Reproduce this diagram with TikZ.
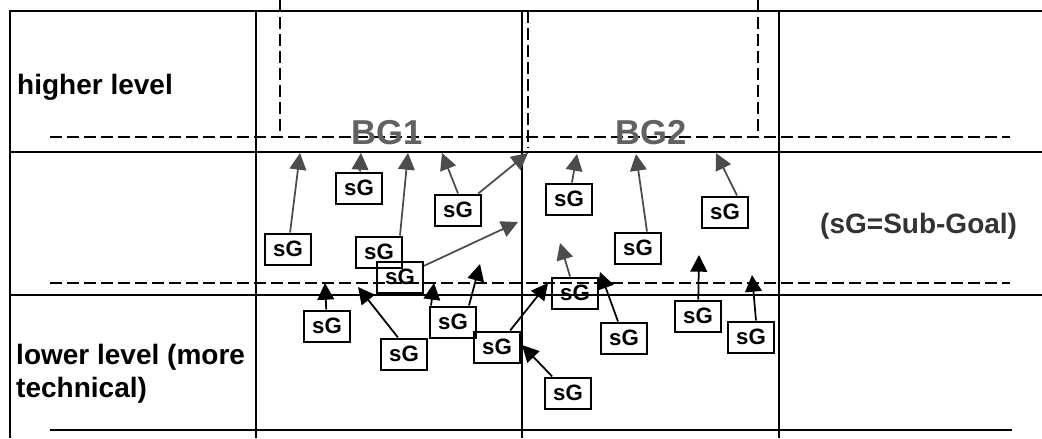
\documentclass[tikz,border=0pt]{standalone}
\usepackage{fontspec}
\setmainfont{Liberation Sans}
\usepackage{xcolor}
\usepackage{tikz}
\usetikzlibrary{positioning, arrows.meta}

\begin{document}
\begin{tikzpicture}[
  x=0.03cm, y=-0.03cm,
  grid/.style={line width=1.6pt, color=black},
  dashline/.style={line width=1.5pt, dash pattern=on 0.36cm off 0.15cm},
  lbl/.style={font=\fontsize{23.9}{28}\selectfont\bfseries, inner sep=0pt},
  goal/.style={font=\fontsize{29.5}{34}\selectfont\bfseries, text=black!62, inner sep=0pt},
  sgbox/.style={draw, line width=1.7pt, minimum width=1.38cm, minimum height=0.93cm, inner sep=0pt, font=\fontsize{19}{22}\selectfont\bfseries},
  arr/.style={-{Triangle[length=0.5cm, width=0.5cm]}, line width=1.5pt},
  garr/.style={arr, color=black!70},
]
  \useasboundingbox (0,0) rectangle (1042,438);

  % Grid
  \draw[grid] (10,438) -- (10,11) -- (1042,11);
  \draw[grid] (10,152) -- (1042,152);
  \draw[grid, line width=2.2pt] (10,295) -- (1042,295);
  \draw[grid] (50,430) -- (1012,430);
  \draw[grid] (256,11) -- (256,438);
  \draw[grid] (522,11) -- (522,438);
  \draw[grid] (779,11) -- (779,438);

  % Level borders and goal frames
  \draw[dashline] (50,137) -- (1010,137);
  \draw[dashline] (50,283) -- (1010,283);
  \draw[dashline, line width=1pt] (280,0) -- (280,137);
  \draw[dashline, line width=1pt] (528,11) -- (528,148);
  \draw[dashline, line width=1pt] (758,0) -- (758,137);

  % Row labels
  \node[lbl, anchor=base west] (high) at (17,94) {higher level};
  \node[lbl, anchor=base west] (low1) at (16,364) {lower level (more};
  \node[lbl, below=0.99cm of low1.base west, anchor=base west] (low2) {technical)};
  \node[lbl, anchor=base west, text=black!80] (legend) at (820,233) {(sG=Sub-Goal)};

  % Business goals
  \node[goal, anchor=base] (bg1) at (387,144) {BG1};
  \node[goal, anchor=base] (bg2) at (651,144) {BG2};

  % Sub-goals
  \node[sgbox] (sg1) at (288,249) {sG};
  \node[sgbox] (sg2) at (359,188) {sG};
  \node[sgbox] (sg3) at (458,210) {sG};
  \node[sgbox] (sg4) at (379,252) {sG};
  \node[sgbox] (sg5) at (400,277) {sG};
  \node[sgbox] (sg6) at (327,326) {sG};
  \node[sgbox] (sg7) at (404,354) {sG};
  \node[sgbox] (sg8) at (453,322) {sG};
  \node[sgbox] (sg9) at (497,347) {sG};
  \node[sgbox] (sg10) at (575,293) {sG};
  \node[sgbox] (sg11) at (624,338) {sG};
  \node[sgbox] (sg12) at (698,316) {sG};
  \node[sgbox] (sg13) at (751,337) {sG};
  \node[sgbox] (sg14) at (569,199) {sG};
  \node[sgbox] (sg15) at (638,248) {sG};
  \node[sgbox] (sg16) at (725,212) {sG};
  \node[sgbox] (sg17) at (568,393) {sG};

  % Arrow tips
  \coordinate (tp1) at (300,153);
  \coordinate (tp2) at (361,153);
  \coordinate (tp3a) at (442,153);
  \coordinate (tp3b) at (528,153);
  \coordinate (tp4) at (408,153);
  \coordinate (tp5) at (518,222);
  \coordinate (tp6) at (325,283);
  \coordinate (tp7) at (358,287);
  \coordinate (tp8a) at (434,283);
  \coordinate (tp8b) at (480,264);
  \coordinate (tp9) at (548,283);
  \coordinate (tp10) at (560,243);
  \coordinate (tp11) at (600,272);
  \coordinate (tp12) at (699,255);
  \coordinate (tp13) at (752,275);
  \coordinate (tp14) at (577,154);
  \coordinate (tp15) at (636,154);
  \coordinate (tp16) at (716,153);
  \coordinate (tp17) at (522,345);

  % Arrows
  \draw[garr] (sg1) -- (tp1);
  \draw[garr] (sg2) -- (tp2);
  \draw[garr] (sg3.north) -- (tp3a);
  \draw[garr] (sg3) -- (tp3b);
  \draw[garr] ([xshift=-0.09cm]sg4.north east) -- (tp4);
  \draw[garr] (sg5) -- (tp5);
  \draw[arr] (sg6) -- (tp6);
  \draw[arr] ([xshift=-0.18cm]sg7.north) -- (tp7);
  \draw[arr] ([xshift=0.06cm]sg8.north west) -- (tp8a);
  \draw[arr] ([xshift=-0.24cm]sg8.north east) -- (tp8b);
  \draw[arr] (sg9) -- (tp9);
  \draw[garr] (sg10) -- (tp10);
  \draw[arr] (sg11) -- (tp11);
  \draw[arr] (sg12) -- (tp12);
  \draw[arr] ([xshift=0.15cm]sg13.north) -- (tp13);
  \draw[garr] (sg14) -- (tp14);
  \draw[garr] ([xshift=0.27cm]sg15.north) -- (tp15);
  \draw[garr] ([xshift=0.36cm]sg16.north) -- (tp16);
  \draw[arr] (sg17) -- (tp17);
\end{tikzpicture}
\end{document}
